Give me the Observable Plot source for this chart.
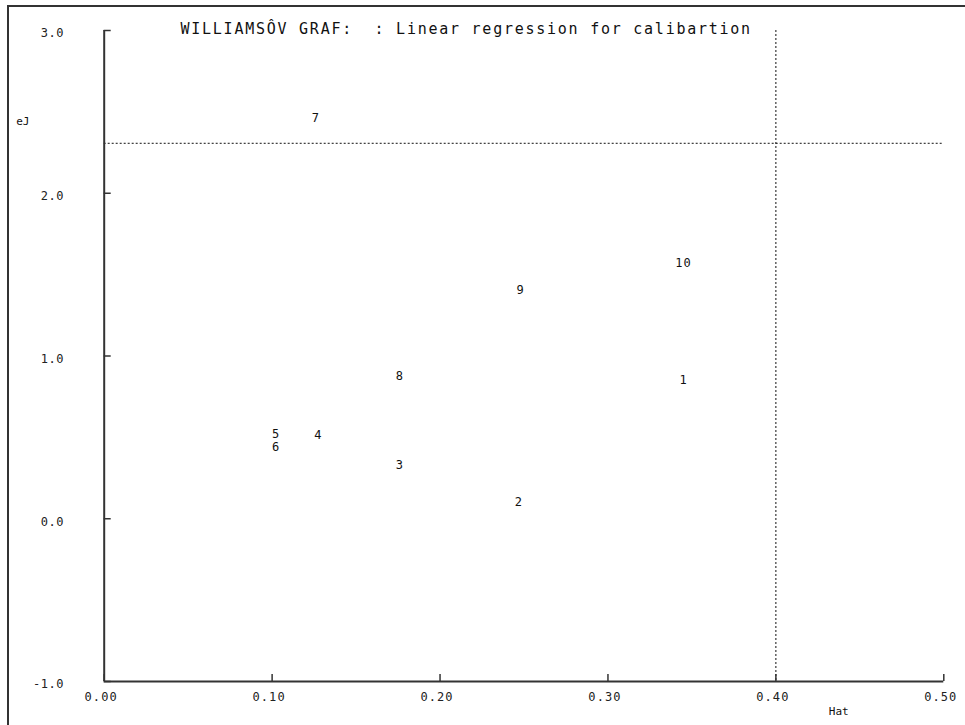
<!DOCTYPE html>
<html>
<head>
<meta charset="utf-8">
<script src="https://cdn.jsdelivr.net/npm/d3@7"></script>
<script src="https://cdn.jsdelivr.net/npm/@observablehq/plot@0.6"></script>
<style>
  html, body { margin: 0; padding: 0; background: #fff; }
  #wrap { position: relative; width: 965px; height: 725px; overflow: hidden; }
  #frame { position: absolute; left: 7px; top: 5px; width: 1000px; height: 1000px;
           border-left: 2px solid #333; border-top: 2px solid #333; pointer-events: none; }
  svg { display: block; }
  .ttl text { letter-spacing: 1.75px; }
  .xlab text { letter-spacing: 1.1px; }
  .ylab text { letter-spacing: 0.6px; }
  .pts text { letter-spacing: 1px; }
</style>
</head>
<body>
<div id="wrap"><div id="frame"></div></div>
<script>
// Data
const ids = ["1", "2", "3", "4", "5", "6", "7", "8", "9", "10"];
const hat = [0.345, 0.247, 0.176, 0.1275, 0.1024, 0.1024, 0.126, 0.176, 0.248, 0.345];
const eJ  = [0.853, 0.100, 0.331, 0.515, 0.521, 0.442, 2.460, 0.877, 1.405, 1.572];
const xTicks = [0, 0.1, 0.2, 0.3, 0.4, 0.5];
const yTicks = [-1, 0, 1, 2, 3];
const hatLimit = [0.4];
const eJLimit = [2.307];
const titleText = "WILLIAMSÔV GRAF:  : Linear regression for calibartion";
const xLabel = "Hat";
const yLabel = "eJ";

const points = ids.map((id, i) => ({id, hat: hat[i], eJ: eJ[i]}));
const mono = "DejaVu Sans Mono, monospace";

const chart = Plot.plot({
  width: 965,
  height: 725,
  marginLeft: 103.7,
  marginRight: 21.7,
  marginTop: 30,
  marginBottom: 44,
  style: {background: "#fff", color: "#222", fontFamily: mono},
  x: {domain: [0, 0.5]},
  y: {domain: [-1, 3]},
  marks: [
    // limit lines
    Plot.ruleX(hatLimit, {stroke: "#111", strokeWidth: 1, strokeDasharray: "2,2"}),
    Plot.ruleY(eJLimit, {stroke: "#111", strokeWidth: 1, strokeDasharray: "2,2"}),
    // axis lines
    Plot.ruleX([0], {stroke: "#333", strokeWidth: 2}),
    Plot.ruleY([-1], {stroke: "#333", strokeWidth: 2}),
    // inward ticks
    Plot.axisX(xTicks, {tickSize: -7, tickFormat: () => "", stroke: "#333", strokeWidth: 1.5, label: null}),
    Plot.axisY(yTicks, {tickSize: -7, tickFormat: () => "", stroke: "#333", strokeWidth: 1.5, label: null}),
    // tick labels
    Plot.axisX(xTicks, {tickSize: 0, tickPadding: 11, dx: -3, tickFormat: d => d.toFixed(2),
      fontSize: 12, fontFamily: mono, fill: "#222", label: null, className: "xlab"}),
    Plot.axisY(yTicks, {tickSize: 0, tickPadding: 40, dy: 3, tickFormat: d => d.toFixed(1),
      fontSize: 12, fontFamily: mono, fill: "#222", label: null, className: "ylab"}),
    // point labels
    Plot.text(points, {x: "hat", y: "eJ", text: "id", fontSize: 12, fontFamily: mono,
      fill: "#111", className: "pts"}),
    // title and axis labels
    Plot.text([titleText], {frameAnchor: "top-left", dx: 76.3, dy: -7, textAnchor: "start",
      fontSize: 15, fontFamily: mono, fill: "#111", className: "ttl"}),
    Plot.text([yLabel], {frameAnchor: "top-left", dx: -88, dy: 87, textAnchor: "start",
      fontSize: 11, fontFamily: mono, fill: "#111"}),
    Plot.text([xLabel], {frameAnchor: "bottom-right", dx: -105, dy: 33, textAnchor: "middle",
      fontSize: 11, fontFamily: mono, fill: "#111"})
  ]
});

document.getElementById("wrap").insertBefore(chart, document.getElementById("frame"));
</script>
</body>
</html>
